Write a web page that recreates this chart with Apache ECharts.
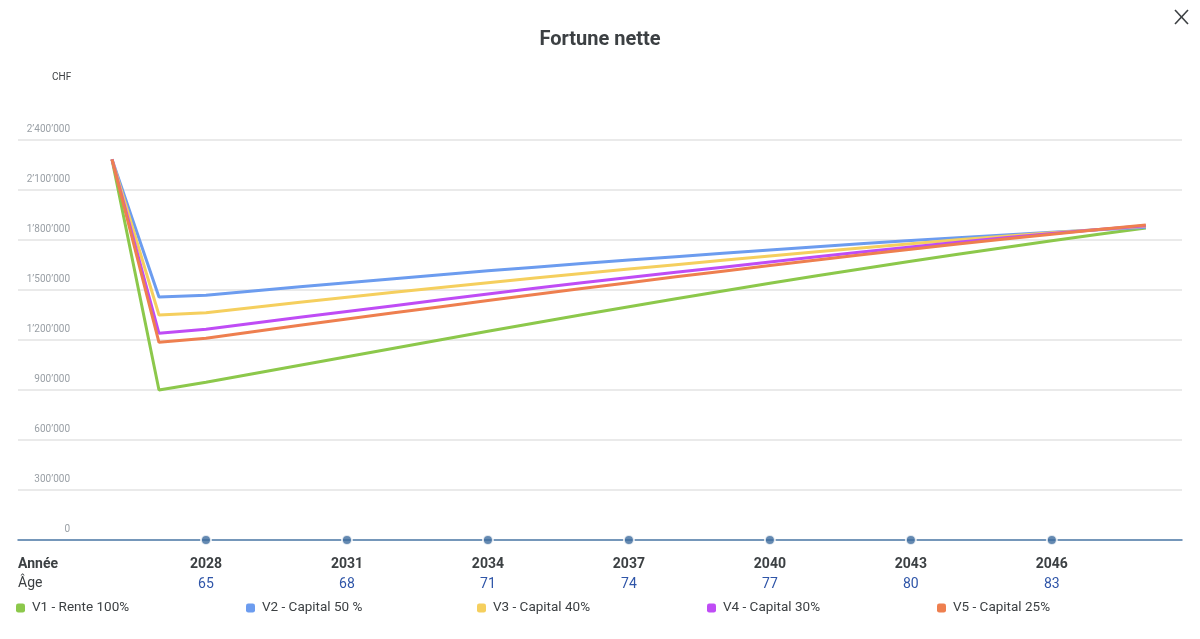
<!DOCTYPE html>
<html lang="fr">
<head>
    <meta charset="utf-8">
    <title>Fortune nette</title>
    <script src="https://cdn.jsdelivr.net/npm/echarts@6/dist/echarts.min.js"></script>
    <style>
        html, body { margin: 0; padding: 0; background: #fff; }
        #main { width: 1200px; height: 639px; }
    </style>
</head>
<body>
<div id="main"></div>
<script type="text/javascript">
    // données (CHF)
    var years = [2026, 2027, 2028, 2029, 2030, 2031, 2032, 2033, 2034, 2035, 2036, 2037,
                 2038, 2039, 2040, 2041, 2042, 2043, 2044, 2045, 2046, 2047, 2048];
    var v1 = [2284000, 900000, 946000, 997000, 1048000, 1099000, 1150000, 1201000, 1252000, 1302000, 1351000, 1399000,
              1447000, 1494000, 1540000, 1585000, 1629000, 1672000, 1714000, 1755000, 1795000, 1834000, 1872000];
    var v2 = [2284000, 1458000, 1468000, 1494000, 1520000, 1544000, 1568000, 1592000, 1615000, 1637000, 1659000, 1680000,
              1700000, 1720000, 1740000, 1760000, 1779000, 1797000, 1814000, 1830000, 1846000, 1861000, 1876000];
    var v3 = [2284000, 1350000, 1364000, 1395000, 1426000, 1456000, 1486000, 1515000, 1544000, 1572000, 1599000, 1626000,
              1652000, 1678000, 1704000, 1729000, 1754000, 1778000, 1801000, 1823000, 1843000, 1863000, 1882000];
    var v4 = [2284000, 1240000, 1264000, 1300000, 1336000, 1371000, 1406000, 1441000, 1476000, 1510000, 1543000, 1575000,
              1606000, 1637000, 1668000, 1699000, 1729000, 1758000, 1786000, 1813000, 1839000, 1863000, 1886000];
    var v5 = [2284000, 1186000, 1210000, 1249000, 1288000, 1326000, 1363000, 1400000, 1437000, 1473000, 1509000, 1544000,
              1579000, 1613000, 1647000, 1680000, 1713000, 1745000, 1776000, 1806000, 1835000, 1863000, 1890000];
    var seriesNames = ['V1 - Rente 100%', 'V2 - Capital 50 %', 'V3 - Capital 40%', 'V4 - Capital 30%', 'V5 - Capital 25%'];
    var tickYears = [2028, 2031, 2034, 2037, 2040, 2043, 2046];
    var tickAges = [65, 68, 71, 74, 77, 80, 83];
    var yTicks = [0, 300000, 600000, 900000, 1200000, 1500000, 1800000, 2100000, 2400000];

    var colors = ['#8cc84b', '#6c9cef', '#f5cf5e', '#bf4cf5', '#ee7f4f'];
    var legendLeft = [16, 246, 477, 707, 937];
    var font = 'Roboto, "Noto Sans", sans-serif';

    function chf(v) {
        return String(v).replace(/\B(?=(\d{3})+(?!\d))/g, '\u2019');
    }
    function pairs(vals) {
        return years.map(function (y, i) { return [y, vals[i]]; });
    }

    var allVals = [v1, v2, v3, v4, v5];
    var series = allVals.map(function (vals, i) {
        return {
            name: seriesNames[i],
            type: 'line',
            data: pairs(vals),
            showSymbol: false,
            symbol: 'none',
            lineStyle: { width: 3, color: colors[i] },
            itemStyle: { color: colors[i] },
            z: 3
        };
    });
    // points sur l'axe
    series.push({
        type: 'scatter',
        data: tickYears.map(function (y) { return [y, 0]; }),
        symbolSize: 10,
        itemStyle: { color: '#3d6c9e', borderColor: '#fff', borderWidth: 2 },
        clip: false,
        silent: true,
        z: 5
    });

    var myChart = echarts.init(document.getElementById('main'));
    var option = {
        animation: false,
        color: colors,
        title: {
            text: 'Fortune nette',
            left: 'center',
            top: 25,
            textStyle: { fontFamily: font, fontSize: 20, fontWeight: 'bold', color: '#3c4043' }
        },
        legend: seriesNames.map(function (n, i) {
            return {
                data: [n],
                left: legendLeft[i],
                top: 601,
                padding: 0,
                icon: 'roundRect',
                itemWidth: 9,
                itemHeight: 9,
                itemGap: 0,
                textStyle: { fontFamily: font, fontSize: 13.5, color: '#3c4043', padding: [0, 0, 0, 2] }
            };
        }),
        grid: { left: 18, right: 18, top: 140, bottom: 99, containLabel: false },
        xAxis: {
            type: 'value',
            min: 2024,
            max: 2048.77,
            axisLine: { show: true, lineStyle: { color: '#4f7cab', width: 1.5 } },
            axisTick: { show: false },
            splitLine: { show: false },
            axisLabel: {
                customValues: tickYears,
                margin: 14,
                formatter: function (v) {
                    var k = tickYears.indexOf(Math.round(v));
                    if (k < 0) return '';
                    return '{y|' + tickYears[k] + '}\n{a|' + tickAges[k] + '}';
                },
                rich: {
                    y: { fontFamily: font, fontSize: 14, fontWeight: 'bold', color: '#3c4043', lineHeight: 20 },
                    a: { fontFamily: font, fontSize: 14, color: '#2f55a8', lineHeight: 20 }
                }
            }
        },
        yAxis: {
            type: 'value',
            min: 0,
            max: 2400000,
            interval: 300000,
            axisLine: { show: false },
            axisTick: { show: false },
            splitLine: { show: true, lineStyle: { color: '#e3e3e3', width: 1.5 } },
            axisLabel: {
                customValues: yTicks,
                inside: true,
                margin: 52,
                align: 'right',
                verticalAlign: 'bottom',
                padding: [0, 0, 6, 0],
                fontFamily: font,
                fontSize: 10,
                color: '#9aa0a6',
                formatter: function (v) { return chf(v); }
            }
        },
        graphic: [
            { type: 'text', left: 52, top: 72, style: { text: 'CHF', font: '10px ' + font, fill: '#3c4043' } },
            { type: 'text', left: 18, top: 557, style: { text: 'Année', font: 'bold 14px ' + font, fill: '#3c4043' } },
            { type: 'text', left: 18, top: 576, style: { text: 'Âge', font: '14px ' + font, fill: '#3c4043' } },
            { type: 'line', shape: { x1: 1175, y1: 10, x2: 1188, y2: 24 }, style: { stroke: '#3c4043', lineWidth: 1.6 } },
            { type: 'line', shape: { x1: 1188, y1: 10, x2: 1175, y2: 24 }, style: { stroke: '#3c4043', lineWidth: 1.6 } }
        ],
        series: series
    };
    myChart.setOption(option);
</script>
</body>
</html>
